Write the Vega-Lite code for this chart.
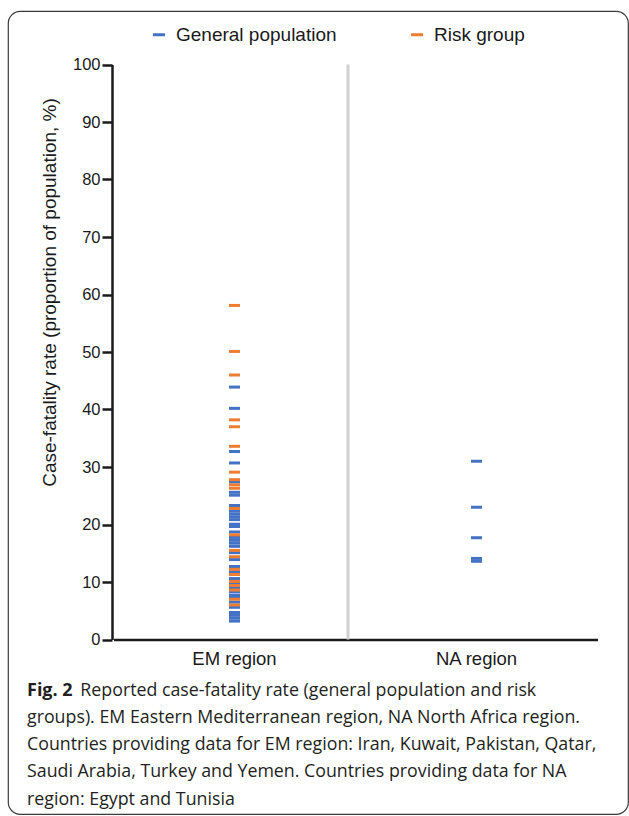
{
  "$schema": "https://vega.github.io/schema/vega-lite/v6.json",
  "width": 620,
  "height": 803,
  "autosize": {"type": "none"},
  "padding": {"left": 8, "top": 11, "right": 1, "bottom": 2},
  "background": "white",
  "config": {
    "view": {"stroke": "#3a3a3a", "strokeWidth": 1.2, "cornerRadius": 12},
    "font": "Liberation Sans"
  },
  "title": {
    "text": "Fig. 2",
    "subtitle": [
      "\u200B\u2003\u2003\u2003Reported case-fatality rate (general population and risk",
      "groups). EM Eastern Mediterranean region, NA North Africa region.",
      "Countries providing data for EM region: Iran, Kuwait, Pakistan, Qatar,",
      "Saudi Arabia, Turkey and Yemen. Countries providing data for NA",
      "region: Egypt and Tunisia"
    ],
    "orient": "bottom",
    "anchor": "start",
    "frame": "group",
    "offset": -132,
    "dx": 19,
    "font": "Open Sans",
    "fontSize": 18,
    "fontWeight": "bold",
    "color": "#231f20",
    "subtitleFont": "Open Sans",
    "subtitleFontSize": 17.8,
    "subtitleColor": "#231f20",
    "subtitlePadding": -18.5,
    "subtitleLineHeight": 27.3
  },
  "layer": [
    {
      "data": {"values": [{}]},
      "mark": {"type": "rule", "color": "#d0d0d0", "strokeWidth": 3, "xOffset": -7.5},
      "encoding": {
        "x": {"datum": "EM region", "type": "nominal", "bandPosition": 1},
        "y": {"datum": 0, "type": "quantitative"},
        "y2": {"datum": 100}
      }
    },
    {
      "data": {
        "values": [
          {"region": "EM region", "group": "General population", "cfr": 43.9},
          {"region": "EM region", "group": "General population", "cfr": 40.2},
          {"region": "EM region", "group": "General population", "cfr": 32.7},
          {"region": "EM region", "group": "General population", "cfr": 30.7},
          {"region": "EM region", "group": "General population", "cfr": 27.4},
          {"region": "EM region", "group": "General population", "cfr": 25.6},
          {"region": "EM region", "group": "General population", "cfr": 25.1},
          {"region": "EM region", "group": "General population", "cfr": 23.3},
          {"region": "EM region", "group": "General population", "cfr": 22.35},
          {"region": "EM region", "group": "General population", "cfr": 21.85},
          {"region": "EM region", "group": "General population", "cfr": 21.35},
          {"region": "EM region", "group": "General population", "cfr": 20.85},
          {"region": "EM region", "group": "General population", "cfr": 20.05},
          {"region": "EM region", "group": "General population", "cfr": 19.65},
          {"region": "EM region", "group": "General population", "cfr": 18.7},
          {"region": "EM region", "group": "General population", "cfr": 17.75},
          {"region": "EM region", "group": "General population", "cfr": 17.25},
          {"region": "EM region", "group": "General population", "cfr": 16.75},
          {"region": "EM region", "group": "General population", "cfr": 16.2},
          {"region": "EM region", "group": "General population", "cfr": 15.1},
          {"region": "EM region", "group": "General population", "cfr": 13.9},
          {"region": "EM region", "group": "General population", "cfr": 12.7},
          {"region": "EM region", "group": "General population", "cfr": 11.8},
          {"region": "EM region", "group": "General population", "cfr": 10.6},
          {"region": "EM region", "group": "General population", "cfr": 9.7},
          {"region": "EM region", "group": "General population", "cfr": 9.0},
          {"region": "EM region", "group": "General population", "cfr": 8.3},
          {"region": "EM region", "group": "General population", "cfr": 7.7},
          {"region": "EM region", "group": "General population", "cfr": 7.3},
          {"region": "EM region", "group": "General population", "cfr": 6.5},
          {"region": "EM region", "group": "General population", "cfr": 5.6},
          {"region": "EM region", "group": "General population", "cfr": 4.7},
          {"region": "EM region", "group": "General population", "cfr": 4.2},
          {"region": "EM region", "group": "General population", "cfr": 3.7},
          {"region": "EM region", "group": "General population", "cfr": 3.2},
          {"region": "NA region", "group": "General population", "cfr": 31.0},
          {"region": "NA region", "group": "General population", "cfr": 23.0},
          {"region": "NA region", "group": "General population", "cfr": 17.7},
          {"region": "NA region", "group": "General population", "cfr": 14.1},
          {"region": "NA region", "group": "General population", "cfr": 13.6},
          {"region": "EM region", "group": "Risk group", "cfr": 58.1},
          {"region": "EM region", "group": "Risk group", "cfr": 50.1},
          {"region": "EM region", "group": "Risk group", "cfr": 46.0},
          {"region": "EM region", "group": "Risk group", "cfr": 38.2},
          {"region": "EM region", "group": "Risk group", "cfr": 37.0},
          {"region": "EM region", "group": "Risk group", "cfr": 33.6},
          {"region": "EM region", "group": "Risk group", "cfr": 29.1},
          {"region": "EM region", "group": "Risk group", "cfr": 27.8},
          {"region": "EM region", "group": "Risk group", "cfr": 26.9},
          {"region": "EM region", "group": "Risk group", "cfr": 26.3},
          {"region": "EM region", "group": "Risk group", "cfr": 22.8},
          {"region": "EM region", "group": "Risk group", "cfr": 18.2},
          {"region": "EM region", "group": "Risk group", "cfr": 15.5},
          {"region": "EM region", "group": "Risk group", "cfr": 14.4},
          {"region": "EM region", "group": "Risk group", "cfr": 12.2},
          {"region": "EM region", "group": "Risk group", "cfr": 11.3},
          {"region": "EM region", "group": "Risk group", "cfr": 10.1},
          {"region": "EM region", "group": "Risk group", "cfr": 9.4},
          {"region": "EM region", "group": "Risk group", "cfr": 8.6},
          {"region": "EM region", "group": "Risk group", "cfr": 7.0},
          {"region": "EM region", "group": "Risk group", "cfr": 6.0}
        ]
      },
      "mark": {"type": "tick", "thickness": 3, "size": 11, "opacity": 1},
      "encoding": {
        "x": {
          "field": "region",
          "type": "nominal",
          "scale": {"domain": ["EM region", "NA region"], "range": [105.5, 589.5], "paddingInner": 0, "paddingOuter": 0},
          "axis": {
            "title": null,
            "orient": "bottom",
            "offset": -174.5,
            "ticks": false,
            "labelAngle": 0,
            "labelAlign": "center",
            "labelBaseline": "top",
            "labelFont": "Liberation Sans",
            "labelFontSize": 18.5,
            "labelColor": "#1a1a1a",
            "labelPadding": 10,
            "domainColor": "#1a1a1a",
            "domainWidth": 2.5
          }
        },
        "y": {
          "field": "cfr",
          "type": "quantitative",
          "scale": {"domain": [0, 100], "range": [628.5, 53.5]},
          "axis": {
            "title": "Case-fatality rate (proportion of population, %)",
            "orient": "left",
            "offset": -104,
            "values": [0, 10, 20, 30, 40, 50, 60, 70, 80, 90, 100],
            "grid": false,
            "domainColor": "#1a1a1a",
            "domainWidth": 2.5,
            "tickColor": "#1a1a1a",
            "tickWidth": 2.5,
            "tickSize": 10,
            "labelFont": "Liberation Sans",
            "labelFontSize": 16.5,
            "labelColor": "#1a1a1a",
            "labelPadding": 2,
            "titleFont": "Liberation Sans",
            "titleFontSize": 19,
            "titleFontWeight": "normal",
            "titleColor": "#1a1a1a",
            "titleX": -63,
            "titleY": 281,
            "titleAngle": -90,
            "titleAlign": "center",
            "titleBaseline": "middle"
          }
        },
        "color": {
          "field": "group",
          "type": "nominal",
          "scale": {"domain": ["General population", "Risk group"], "range": ["#4472C4", "#ED7D31"]},
          "legend": {
            "orient": "none",
            "legendX": 141.5,
            "legendY": 14,
            "direction": "horizontal",
            "title": null,
            "padding": 0,
            "symbolType": "M-1,-0.25H1V0.25H-1Z",
            "symbolSize": 144,
            "symbolStrokeWidth": 0,
            "symbolOpacity": 1,
            "labelFont": "Liberation Sans",
            "labelFontSize": 19,
            "labelLimit": 300,
            "labelColor": "#1a1a1a",
            "labelOffset": 7.5,
            "columnPadding": 70
          }
        }
      }
    }
  ]
}
